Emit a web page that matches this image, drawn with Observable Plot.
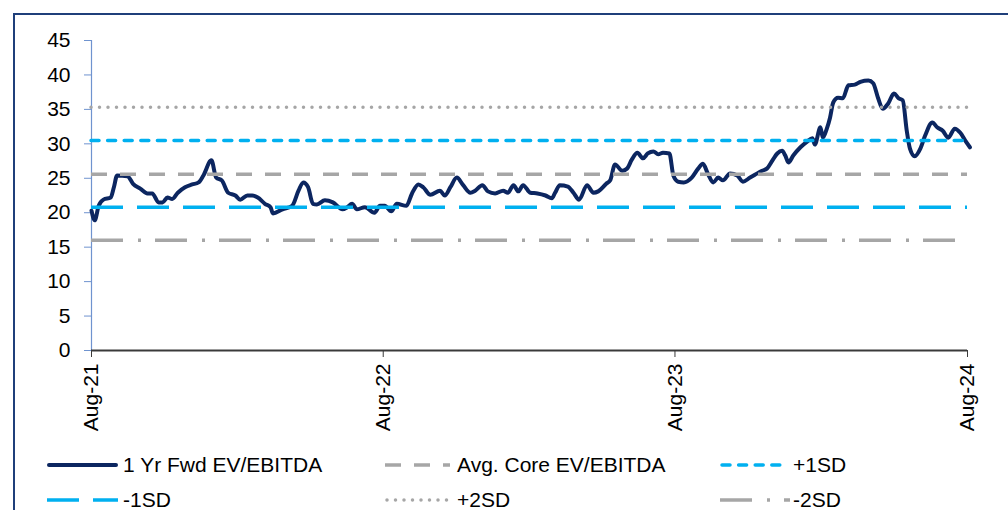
<!DOCTYPE html>
<html><head><meta charset="utf-8">
<script src="https://cdn.jsdelivr.net/npm/d3@7"></script>
<script src="https://cdn.jsdelivr.net/npm/@observablehq/plot@0.6"></script>
<style>
body{margin:0;background:#fff;font-family:"Liberation Sans",Arial,sans-serif;}
#wrap{position:relative;width:1008px;height:510px;overflow:hidden;background:#fff;}
#frame{position:absolute;left:13px;top:13px;width:1010px;height:520px;border-left:2px solid #1f3f7a;border-top:2px solid #1f3f7a;box-sizing:border-box;}
#chart{position:absolute;left:0;top:0;}
#legend{position:absolute;left:0;top:450px;width:1008px;height:60px;}
.sample{position:absolute;}
.ltext{position:absolute;font-size:21px;line-height:24px;color:#000;white-space:nowrap;}
</style></head>
<body>
<div id="wrap"><div id="frame"></div><div id="chart"></div><div id="legend"></div></div>
<script>
// ---- data ----
const dates = ["2021-08-01","2021-08-05","2021-08-10","2021-08-16","2021-08-25","2021-08-29","2021-09-02","2021-09-15","2021-09-22","2021-10-01",
"2021-10-10","2021-10-16","2021-10-24","2021-10-29","2021-11-04","2021-11-10","2021-11-17","2021-11-26","2021-12-05","2021-12-13",
"2021-12-19","2021-12-29","2022-01-04","2022-01-11","2022-01-19","2022-01-28","2022-02-03","2022-02-12","2022-02-18","2022-02-25",
"2022-03-06","2022-03-13","2022-03-16","2022-03-28","2022-04-09","2022-04-17","2022-04-23","2022-04-29","2022-05-05","2022-05-10",
"2022-05-20","2022-05-30","2022-06-11","2022-06-17","2022-06-23","2022-06-29","2022-07-09","2022-07-21","2022-07-28","2022-08-03",
"2022-08-11","2022-08-18","2022-08-30","2022-09-06","2022-09-14","2022-09-20","2022-09-29","2022-10-11","2022-10-17","2022-10-24",
"2022-11-01","2022-11-09","2022-11-18","2022-11-24","2022-12-03","2022-12-10","2022-12-19","2022-12-29","2023-01-04","2023-01-11",
"2023-01-17","2023-01-23","2023-02-01","2023-02-10","2023-02-20","2023-02-28","2023-03-04","2023-03-10","2023-03-20","2023-03-27",
"2023-04-03","2023-04-13","2023-04-21","2023-04-27","2023-05-07","2023-05-12","2023-05-18","2023-05-27","2023-06-02","2023-06-08",
"2023-06-15","2023-06-22","2023-06-28","2023-07-05","2023-07-11","2023-07-17","2023-07-25","2023-07-30","2023-08-05","2023-08-12",
"2023-08-22","2023-08-30","2023-09-05","2023-09-11","2023-09-18","2023-09-24","2023-09-30","2023-10-09","2023-10-18","2023-10-25",
"2023-11-03","2023-11-09","2023-11-18","2023-11-24","2023-12-01","2023-12-07","2023-12-13","2023-12-17","2023-12-21","2023-12-27",
"2024-01-05","2024-01-13","2024-01-20","2024-01-23","2024-01-30","2024-02-02","2024-02-07","2024-02-11","2024-02-15","2024-02-21",
"2024-02-27","2024-03-05","2024-03-13","2024-03-20","2024-03-30","2024-04-05","2024-04-11","2024-04-17","2024-04-24","2024-05-01",
"2024-05-07","2024-05-12","2024-05-17","2024-05-21","2024-05-27","2024-06-03","2024-06-09","2024-06-18","2024-06-24","2024-07-01",
"2024-07-08","2024-07-16","2024-07-23","2024-07-29","2024-08-04"];
const evEbitda = [20.3,18.9,21.0,21.9,22.2,23.7,25.4,25.3,24.2,23.5,
22.8,22.8,21.5,21.5,22.2,22.0,22.9,23.7,24.1,24.4,
25.4,27.6,25.1,24.7,22.9,22.5,21.9,22.5,22.5,22.2,
21.3,20.8,19.9,20.5,21.0,23.2,24.4,23.7,21.3,21.2,
21.8,21.5,20.5,20.8,21.3,20.5,20.8,20.0,21.0,21.0,
20.2,21.3,21.0,22.8,24.1,23.7,22.6,23.2,22.5,23.7,
25.1,24.0,22.9,23.2,24.0,23.1,22.8,23.2,22.9,24.0,
23.1,24.0,22.9,22.8,22.5,22.1,22.9,24.0,23.8,22.9,
21.9,24.0,22.9,23.1,24.2,24.7,27.0,26.1,26.4,27.7,
28.7,27.9,28.6,28.9,28.5,28.7,28.6,25.4,24.5,24.4,
25.1,26.4,27.1,25.7,24.4,25.1,24.7,25.7,25.4,24.5,
25.1,25.5,26.1,26.4,27.6,28.6,29.0,28.3,27.3,28.3,
29.5,30.3,30.8,29.9,32.4,30.9,32.2,33.8,36.0,36.7,
36.6,38.5,38.6,39.0,39.2,38.8,36.7,35.1,35.9,37.3,
36.6,36.3,31.9,29.3,28.2,29.3,31.2,33.1,32.4,31.9,
30.9,32.2,31.6,30.5,29.5];
const levelNames = ["Avg. Core EV/EBITDA","+1SD","-1SD","+2SD","-2SD"];
const levelValues = [25.6, 30.5, 20.8, 35.3, 16.0];
const seriesName = "1 Yr Fwd EV/EBITDA";
const xTickDates = ["2021-08-01","2022-08-01","2023-08-01","2024-08-01"];
const xTickLabels = ["Aug-21","Aug-22","Aug-23","Aug-24"];
const yTicks = [0,5,10,15,20,25,30,35,40,45];
const xDomain = ["2021-08-01","2024-08-01"];
const yDomain = [0,45];

// ---- styles ----
const styles = {
  [seriesName]: {stroke:"#0c2660", width:4, dash:null, cap:"round"},
  "Avg. Core EV/EBITDA": {stroke:"#a6a6a6", width:3.5, dash:"16,13", cap:"butt"},
  "+1SD": {stroke:"#00b0f0", width:3.5, dash:"8,8.6", cap:"round"},
  "-1SD": {stroke:"#00b0f0", width:3.5, dash:"32,14", cap:"butt"},
  "+2SD": {stroke:"#a6a6a6", width:3.5, dash:"0,8.5", cap:"round"},
  "-2SD": {stroke:"#a6a6a6", width:3.5, dash:"32,15,3,14", cap:"butt"}
};

const data = dates.map((d,i)=>({date:new Date(d+"T00:00:00Z"), value:evEbitda[i]}));
const levels = levelNames.map((n,i)=>({name:n, value:levelValues[i]}));
const parse = d => new Date(d+"T00:00:00Z");

const font = {fontFamily:"'Liberation Sans', Arial, sans-serif"};
const chart = Plot.plot({
  width:1008, height:450,
  marginLeft:91, marginRight:41, marginTop:40, marginBottom:100,
  style:{...font, fontSize:"21px", background:"transparent", overflow:"visible"},
  x:{type:"utc", domain:xDomain.map(parse)},
  y:{domain:yDomain},
  marks:[
    Plot.ruleX([parse(xDomain[0])], {stroke:"#6f93cf", strokeWidth:1.2}),
    Plot.axisY({ticks:yTicks, tickSize:7, tickPadding:14, stroke:"#6f93cf", fill:"#000", fontSize:21, label:null, tickFormat:d=>String(d)}),
    Plot.line(data, {x:"date", y:"value", stroke:styles[seriesName].stroke, strokeWidth:styles[seriesName].width, curve:"monotone-x", strokeLinejoin:"round"}),
    ...levels.map(l => Plot.ruleY([l.value], {stroke:styles[l.name].stroke, strokeWidth:styles[l.name].width, strokeDasharray:styles[l.name].dash, strokeLinecap:styles[l.name].cap})),
    Plot.ruleY([0], {stroke:"#3a3a3a", strokeWidth:2}),
    Plot.axisX({ticks:xTickDates.map(parse), tickFormat:(d,i)=>xTickLabels[i], tickRotate:-90, tickSize:7, tickPadding:6, stroke:"#3a3a3a", fill:"#000", fontSize:21, label:null})
  ]
});
document.getElementById("chart").appendChild(chart);

// ---- legend ----
const legendOrder = [seriesName, "Avg. Core EV/EBITDA", "+1SD", "-1SD", "+2SD", "-2SD"];
const colSample = [47, 385, 720];
const colSampleW = [71, 65, 70];
const colText = [123, 457, 793];
const rowCenter = [15, 50];
const leg = document.getElementById("legend");
legendOrder.forEach((name,i)=>{
  const c = i%3, r = Math.floor(i/3);
  const s = styles[name];
  const w = colSampleW[c];
  const svg = d3.create("svg").attr("class","sample").attr("width",w).attr("height",12)
    .style("left",colSample[c]+"px").style("top",(rowCenter[r]-6)+"px");
  svg.append("line").attr("x1", s.cap==="round"?2:0).attr("x2", s.cap==="round"?w-2:w).attr("y1",6).attr("y2",6)
    .attr("stroke",s.stroke).attr("stroke-width",s.width)
    .attr("stroke-dasharray",s.dash).attr("stroke-linecap",s.cap);
  leg.appendChild(svg.node());
  const t = document.createElement("div");
  t.className="ltext"; t.textContent=name;
  t.style.left=colText[c]+"px"; t.style.top=(rowCenter[r]-12)+"px";
  leg.appendChild(t);
});
</script>
</body></html>
